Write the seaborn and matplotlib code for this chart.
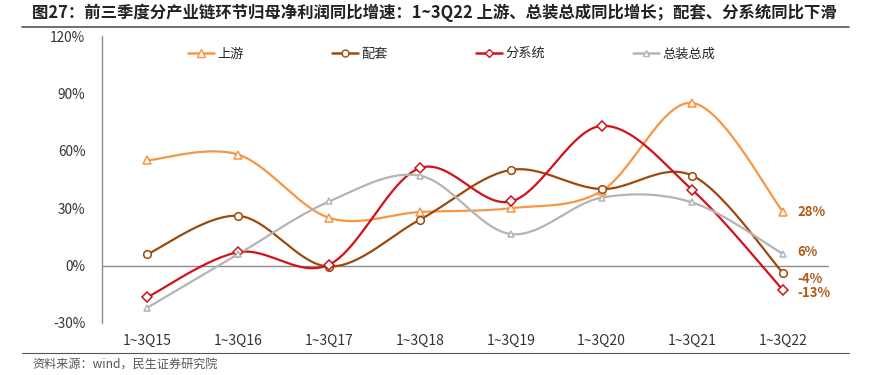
import numpy as np
import pandas as pd
import matplotlib
matplotlib.use("Agg")
import matplotlib.pyplot as plt
from matplotlib.lines import Line2D
import seaborn as sns

categories = ["1~3Q15", "1~3Q16", "1~3Q17", "1~3Q18", "1~3Q19", "1~3Q20", "1~3Q21", "1~3Q22"]
upstream = [55, 58, 25, 28, 30, 39, 85, 28]          # 上游
matching = [6, 26, -0.5, 24, 50, 40, 47, -4]          # 配套
subsystem = [-16.5, 7, 0.5, 51, 33.5, 73, 39.5, -13]  # 分系统
assembly = [-22, 6, 33.5, 47, 16.5, 35.5, 33, 6]      # 总装总成
series_names = ["上游", "配套", "分系统", "总装总成"]
end_labels = ["28%", "-4%", "-13%", "6%"]
yticks = [-30, 0, 30, 60, 90, 120]

sns.set_theme(style="white")
plt.rcParams["font.family"] = ["Noto Sans CJK SC", "DejaVu Sans"]
plt.rcParams["axes.unicode_minus"] = False

colors = ["#F79646", "#9C4A0B", "#D0121B", "#B4B4B4"]
markers = ["^", "o", "D", "^"]
msizes = [6, 5.5, 5, 4.5]
label_color = "#B05A1A"


def smooth(xs, ys, n=30):
    """Excel-style smoothed line: cubic Bezier through points (Catmull-Rom control points)."""
    pts = np.column_stack([xs, ys]).astype(float)
    out = []
    m = len(pts)
    for i in range(m - 1):
        p0 = pts[i - 1] if i > 0 else pts[i]
        p1 = pts[i]
        p2 = pts[i + 1]
        p3 = pts[i + 2] if i + 2 < m else pts[i + 1]
        c1 = p1 + (p2 - p0) / 6.0
        c2 = p2 - (p3 - p1) / 6.0
        t = np.linspace(0, 1, n)[:, None]
        seg = ((1 - t) ** 3) * p1 + 3 * ((1 - t) ** 2) * t * c1 + 3 * (1 - t) * t ** 2 * c2 + t ** 3 * p2
        if i > 0:
            seg = seg[1:]
        out.append(seg)
    arr = np.vstack(out)
    return arr[:, 0], arr[:, 1]


fig = plt.figure(figsize=(8.75, 3.75), dpi=100)
ax = fig.add_axes([0.1166, 0.1387, 0.8304, 0.7653])

xs = np.arange(len(categories))
all_series = [upstream, matching, subsystem, assembly]

ax.axhline(0, color="#8C8C8C", lw=1.0, zorder=1)

handles = []
for vals, name, c, mk, ms in zip(all_series, series_names, colors, markers, msizes):
    sx, sy = smooth(xs, vals)
    df = pd.DataFrame({"x": sx, "y": sy})
    sns.lineplot(data=df, x="x", y="y", ax=ax, color=c, lw=1.6, sort=False, zorder=3)
    ax.plot(xs, vals, ls="none", marker=mk, ms=ms, mfc="white", mec=c, mew=1.1, zorder=4)
    handles.append(Line2D([0], [0], color=c, lw=1.8, marker=mk, ms=ms - 0.5,
                          mfc="white", mec=c, mew=1.0))

# end labels
offsets = [0, -4.3, -1.5, 1.5]
for vals, lab, off in zip(all_series, end_labels, offsets):
    ax.annotate(lab, xy=(xs[-1], vals[-1]), xytext=(10, off), textcoords="offset points",
                ha="left", va="center", fontsize=9.5, fontweight="bold", color=label_color)

ax.set_xlim(-0.5, len(categories) - 0.5)
ax.set_ylim(-30, 120)
ax.set_xticks(xs)
ax.set_xticklabels(categories, fontsize=10, color="#333333")
ax.set_yticks(yticks)
ax.set_yticklabels([f"{v}%" for v in yticks], fontsize=9.8, color="#333333")
ax.tick_params(axis="both", length=0, pad=8)
ax.tick_params(axis="y", pad=12)
ax.set_xlabel("")
ax.set_ylabel("")
for s in ["top", "right", "bottom"]:
    ax.spines[s].set_visible(False)
ax.spines["left"].set_color("#8C8C8C")
ax.spines["left"].set_linewidth(1.0)

leg = ax.legend(handles, series_names, loc="upper left", bbox_to_anchor=(0.102, 1.0),
                ncol=4, frameon=False, fontsize=9.5, columnspacing=6.7, handlelength=2.0,
                handletextpad=0.2)

# title and source
fig.text(0.037, 0.966, "图27：前三季度分产业链环节归母净利润同比增速：1~3Q22 上游、总装总成同比增长；配套、分系统同比下滑",
         fontsize=11.8, fontweight="bold", color="#222222", ha="left", va="center")
fig.add_artist(Line2D([0.025, 0.97], [0.928, 0.928], color="#555555", lw=1.2))
fig.add_artist(Line2D([0.025, 0.97], [0.06, 0.06], color="#555555", lw=0.8))
fig.text(0.037, 0.027, "资料来源：wind，民生证券研究院", fontsize=8.7, color="#555555",
         ha="left", va="center")

fig.savefig("out.png", dpi=100)
